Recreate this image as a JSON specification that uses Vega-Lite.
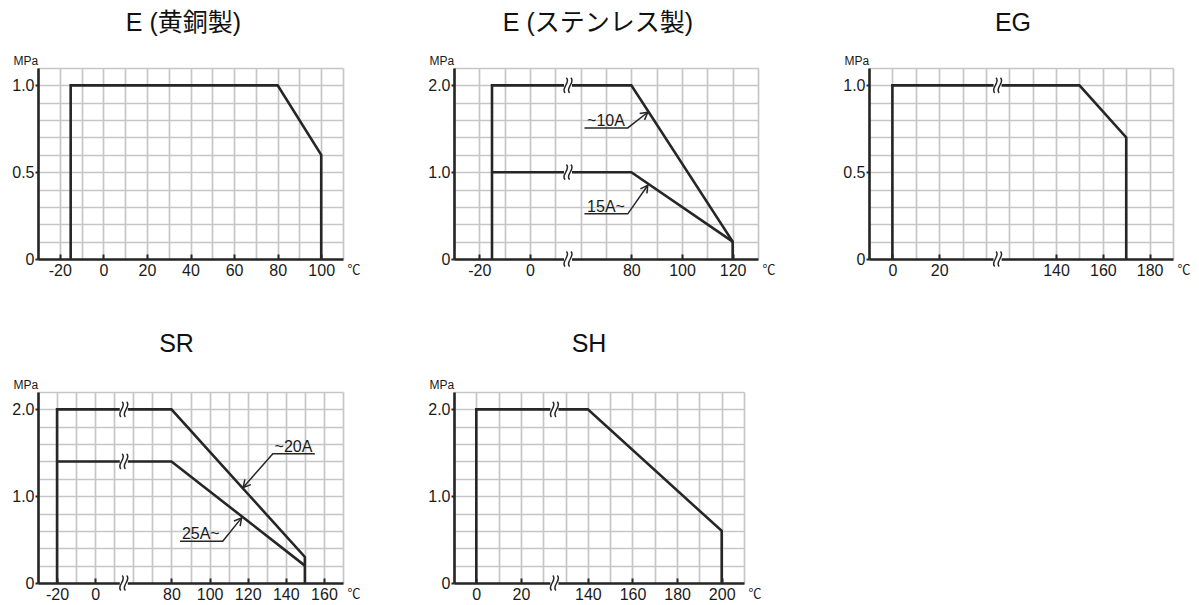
{
  "$schema": "https://vega.github.io/schema/vega-lite/v6.json",
  "background": "white",
  "padding": {"left": 11, "top": 11, "right": 0, "bottom": 0},
  "config": {
    "font": "Liberation Sans",
    "view": {"stroke": null},
    "title": {"font": "Liberation Sans, Noto Sans CJK JP", "fontSize": 25, "fontWeight": "normal", "color": "#111111", "anchor": "middle", "frame": "group"},
    "axis": {"grid": true, "gridColor": "#c6c6c6", "gridWidth": 1.7, "domainColor": "#262626", "domainWidth": 2.6, "tickColor": "#262626", "tickWidth": 2, "labelFont": "Liberation Sans", "labelFontSize": 16, "labelColor": "#1a1a1a", "labelOverlap": false, "labelFlush": false, "labelBound": false, "titleFont": "Liberation Sans, Noto Sans CJK JP", "titleFontWeight": "normal", "titleColor": "#1a1a1a", "titleFontSize": 12, "titleAngle": 0, "titleAlign": "left", "titleBaseline": "alphabetic", "titlePadding": 0},
    "axisX": {"tickSize": -5, "labelPadding": 8, "titleY": 14, "titleFontSize": 13},
    "axisY": {"tickSize": 3, "labelPadding": 1, "titleX": -25, "titleY": -4}
  },
  "datasets": {
    "p1_lines": [
      {"s": "a", "i": 0, "t": -15, "p": 0}, {"s": "a", "i": 1, "t": -15, "p": 1}, {"s": "a", "i": 2, "t": 80, "p": 1}, {"s": "a", "i": 3, "t": 100, "p": 0.6}, {"s": "a", "i": 4, "t": 100, "p": 0}
    ],
    "p2_lines": [
      {"s": "a", "i": 0, "t": -15, "p": 0}, {"s": "a", "i": 1, "t": -15, "p": 2}, {"s": "a", "i": 2, "t": 80, "p": 2}, {"s": "a", "i": 3, "t": 120, "p": 0.2}, {"s": "a", "i": 4, "t": 120, "p": 0},
      {"s": "b", "i": 0, "t": -15, "p": 1}, {"s": "b", "i": 1, "t": 80, "p": 1}, {"s": "b", "i": 2, "t": 120, "p": 0.2}
    ],
    "p2_breaks": [{"t": 15, "p": 2}, {"t": 15, "p": 1}, {"t": 15, "p": 0}],
    "p2_leaders": [
      {"s": "l1", "i": 0, "t": 61.5, "p": 1.51}, {"s": "l1", "i": 1, "t": 78.6, "p": 1.51}, {"s": "l1", "i": 2, "t": 86.5, "p": 1.69},
      {"s": "l2", "i": 0, "t": 61.5, "p": 0.52}, {"s": "l2", "i": 1, "t": 78.6, "p": 0.52}, {"s": "l2", "i": 2, "t": 86.5, "p": 0.85}
    ],
    "p2_heads": [{"k": 1, "t": 86.5, "p": 1.69}, {"k": 2, "t": 86.5, "p": 0.85}],
    "p2_labels": [{"label": "~10A", "t": 70, "p": 1.51}, {"label": "15A~", "t": 70, "p": 0.52}],
    "p3_lines": [
      {"s": "a", "i": 0, "t": 0, "p": 0}, {"s": "a", "i": 1, "t": 0, "p": 1}, {"s": "a", "i": 2, "t": 150, "p": 1}, {"s": "a", "i": 3, "t": 170, "p": 0.7}, {"s": "a", "i": 4, "t": 170, "p": 0}
    ],
    "p3_breaks": [{"t": 45, "p": 1}, {"t": 45, "p": 0}],
    "p4_lines": [
      {"s": "a", "i": 0, "t": -20, "p": 0}, {"s": "a", "i": 1, "t": -20, "p": 2}, {"s": "a", "i": 2, "t": 80, "p": 2}, {"s": "a", "i": 3, "t": 150, "p": 0.3}, {"s": "a", "i": 4, "t": 150, "p": 0},
      {"s": "b", "i": 0, "t": -20, "p": 1.4}, {"s": "b", "i": 1, "t": 80, "p": 1.4}, {"s": "b", "i": 2, "t": 150, "p": 0.2}
    ],
    "p4_breaks": [{"t": 15, "p": 2}, {"t": 15, "p": 1.4}, {"t": 15, "p": 0}],
    "p4_leaders": [
      {"s": "l1", "i": 0, "t": 155.2, "p": 1.49}, {"s": "l1", "i": 1, "t": 133.2, "p": 1.49}, {"s": "l1", "i": 2, "t": 117.6, "p": 1.1},
      {"s": "l2", "i": 0, "t": 84.5, "p": 0.48}, {"s": "l2", "i": 1, "t": 106.9, "p": 0.48}, {"s": "l2", "i": 2, "t": 116.8, "p": 0.75}
    ],
    "p4_heads": [{"k": 1, "t": 117.6, "p": 1.1}, {"k": 2, "t": 116.8, "p": 0.75}],
    "p4_labels": [{"label": "~20A", "t": 144, "p": 1.49}, {"label": "25A~", "t": 95.4, "p": 0.48}],
    "p5_lines": [
      {"s": "a", "i": 0, "t": 0, "p": 0}, {"s": "a", "i": 1, "t": 0, "p": 2}, {"s": "a", "i": 2, "t": 140, "p": 2}, {"s": "a", "i": 3, "t": 200, "p": 0.6}, {"s": "a", "i": 4, "t": 200, "p": 0}
    ],
    "p5_breaks": [{"t": 35, "p": 2}, {"t": 35, "p": 0}]
  },
  "columns": 3,
  "bounds": "flush",
  "spacing": {"row": 133, "column": 111},
  "concat": [
    {
      "title": {"text": "E (黄銅製)", "dx": -7, "offset": 18},
      "width": 305, "height": 191,
      "encoding": {
        "x": {"field": "t", "type": "quantitative", "scale": {"domain": [-30, 110], "nice": false, "zero": false},
          "axis": {"values": [-30, -20, -10, 0, 10, 20, 30, 40, 50, 60, 70, 80, 90, 100, 110], "labelExpr": "(datum.value == -20 || datum.value == 0 || datum.value == 20 || datum.value == 40 || datum.value == 60 || datum.value == 80 || datum.value == 100) ? '' + datum.value : ''", "tickOpacity": {"condition": {"test": "datum.value == -20 || datum.value == 0 || datum.value == 20 || datum.value == 40 || datum.value == 60 || datum.value == 80 || datum.value == 100", "value": 1}, "value": 0}, "title": "℃", "titleX": 309}},
        "y": {"field": "p", "type": "quantitative", "scale": {"domain": [0, 1.1], "nice": false, "zero": false},
          "axis": {"values": [0, 0.1, 0.2, 0.3, 0.4, 0.5, 0.6, 0.7, 0.8, 0.9, 1, 1.1], "labelExpr": "datum.value == 0 ? '0' : (datum.value == 0.5 || datum.value == 1) ? format(datum.value, '.1f') : ''", "tickOpacity": {"condition": {"test": "datum.value == 0 || datum.value == 0.5 || datum.value == 1", "value": 1}, "value": 0}, "title": "MPa"}}
      },
      "layer": [
        {"data": {"name": "p1_lines"}, "mark": {"type": "line", "color": "#262626", "strokeWidth": 2.6}, "encoding": {"detail": {"field": "s"}, "order": {"field": "i"}}}
      ]
    },
    {
      "title": {"text": "E (ステンレス製)", "dx": -8, "offset": 18},
      "width": 304, "height": 191,
      "encoding": {
        "x": {"field": "t", "type": "quantitative", "scale": {"domain": [-30, 15, 55, 130], "range": [0, 114, 114, 304], "nice": false, "zero": false},
          "axis": {"values": [-30, -20, -10, 0, 10, 60, 70, 80, 90, 100, 110, 120, 130], "labelExpr": "(datum.value == -20 || datum.value == 0 || datum.value == 80 || datum.value == 100 || datum.value == 120) ? '' + datum.value : ''", "tickOpacity": {"condition": {"test": "datum.value == -20 || datum.value == 0 || datum.value == 80 || datum.value == 100 || datum.value == 120", "value": 1}, "value": 0}, "title": "℃", "titleX": 308}},
        "y": {"field": "p", "type": "quantitative", "scale": {"domain": [0, 2.2], "nice": false, "zero": false},
          "axis": {"values": [0, 0.2, 0.4, 0.6, 0.8, 1, 1.2, 1.4, 1.6, 1.8, 2, 2.2], "labelExpr": "datum.value == 0 ? '0' : (datum.value == 1 || datum.value == 2) ? format(datum.value, '.1f') : ''", "tickOpacity": {"condition": {"test": "datum.value == 0 || datum.value == 1 || datum.value == 2", "value": 1}, "value": 0}, "title": "MPa"}}
      },
      "layer": [
        {"data": {"name": "p2_lines"}, "mark": {"type": "line", "color": "#262626", "strokeWidth": 2.6}, "encoding": {"detail": {"field": "s"}, "order": {"field": "i"}}},
        {"data": {"name": "p2_leaders"}, "mark": {"type": "line", "color": "#262626", "strokeWidth": 1.5}, "encoding": {"detail": {"field": "s"}, "order": {"field": "i"}}},
        {"data": {"name": "p2_heads"}, "transform": [{"filter": "datum.k == 1"}], "mark": {"type": "point", "shape": "M-1,-0.55L0,0L-1,0.55", "filled": false, "size": 210, "angle": -38, "color": "#262626", "strokeWidth": 1.5, "opacity": 1}},
        {"data": {"name": "p2_heads"}, "transform": [{"filter": "datum.k == 2"}], "mark": {"type": "point", "shape": "M-1,-0.55L0,0L-1,0.55", "filled": false, "size": 210, "angle": -55, "color": "#262626", "strokeWidth": 1.5, "opacity": 1}},
        {"data": {"name": "p2_breaks"}, "mark": {"type": "point", "shape": "square", "filled": true, "color": "white", "size": 64, "opacity": 1, "strokeWidth": 0}},
        {"data": {"name": "p2_breaks"}, "mark": {"type": "point", "shape": "M-0.22,-1C0.45,-0.45 -1.05,0.45 -0.38,1M0.38,-1C1.05,-0.45 -0.45,0.45 0.22,1", "filled": false, "size": 225, "color": "#262626", "strokeWidth": 1.5, "opacity": 1}},
        {"data": {"name": "p2_labels"}, "mark": {"type": "text", "font": "Liberation Sans", "fontSize": 16, "baseline": "alphabetic", "align": "center", "dy": -2, "color": "#1a1a1a"}, "encoding": {"text": {"field": "label"}}}
      ]
    },
    {
      "title": {"text": "EG", "dx": -8, "offset": 18},
      "width": 304, "height": 191,
      "encoding": {
        "x": {"field": "t", "type": "quantitative", "scale": {"domain": [-10, 45, 115, 190], "range": [0, 128.6, 128.6, 304], "nice": false, "zero": false},
          "axis": {"values": [-10, 0, 10, 20, 30, 40, 120, 130, 140, 150, 160, 170, 180, 190], "labelExpr": "(datum.value == 0 || datum.value == 20 || datum.value == 140 || datum.value == 160 || datum.value == 180) ? '' + datum.value : ''", "tickOpacity": {"condition": {"test": "datum.value == 0 || datum.value == 20 || datum.value == 140 || datum.value == 160 || datum.value == 180", "value": 1}, "value": 0}, "title": "℃", "titleX": 308}},
        "y": {"field": "p", "type": "quantitative", "scale": {"domain": [0, 1.1], "nice": false, "zero": false},
          "axis": {"values": [0, 0.1, 0.2, 0.3, 0.4, 0.5, 0.6, 0.7, 0.8, 0.9, 1, 1.1], "labelExpr": "datum.value == 0 ? '0' : (datum.value == 0.5 || datum.value == 1) ? format(datum.value, '.1f') : ''", "tickOpacity": {"condition": {"test": "datum.value == 0 || datum.value == 0.5 || datum.value == 1", "value": 1}, "value": 0}, "title": "MPa"}}
      },
      "layer": [
        {"data": {"name": "p3_lines"}, "mark": {"type": "line", "color": "#262626", "strokeWidth": 2.6}, "encoding": {"detail": {"field": "s"}, "order": {"field": "i"}}},
        {"data": {"name": "p3_breaks"}, "mark": {"type": "point", "shape": "square", "filled": true, "color": "white", "size": 64, "opacity": 1, "strokeWidth": 0}},
        {"data": {"name": "p3_breaks"}, "mark": {"type": "point", "shape": "M-0.22,-1C0.45,-0.45 -1.05,0.45 -0.38,1M0.38,-1C1.05,-0.45 -0.45,0.45 0.22,1", "filled": false, "size": 225, "color": "#262626", "strokeWidth": 1.5, "opacity": 1}}
      ]
    },
    {
      "title": {"text": "SR", "dx": -14, "offset": 21},
      "width": 305, "height": 191,
      "encoding": {
        "x": {"field": "t", "type": "quantitative", "scale": {"domain": [-30, 15, 55, 170], "range": [0, 85.8, 85.8, 305], "nice": false, "zero": false},
          "axis": {"values": [-30, -20, -10, 0, 10, 60, 70, 80, 90, 100, 110, 120, 130, 140, 150, 160, 170], "labelExpr": "(datum.value == -20 || datum.value == 0 || datum.value == 80 || datum.value == 100 || datum.value == 120 || datum.value == 140 || datum.value == 160) ? '' + datum.value : ''", "tickOpacity": {"condition": {"test": "datum.value == -20 || datum.value == 0 || datum.value == 80 || datum.value == 100 || datum.value == 120 || datum.value == 140 || datum.value == 160", "value": 1}, "value": 0}, "title": "℃", "titleX": 309}},
        "y": {"field": "p", "type": "quantitative", "scale": {"domain": [0, 2.2], "nice": false, "zero": false},
          "axis": {"values": [0, 0.2, 0.4, 0.6, 0.8, 1, 1.2, 1.4, 1.6, 1.8, 2, 2.2], "labelExpr": "datum.value == 0 ? '0' : (datum.value == 1 || datum.value == 2) ? format(datum.value, '.1f') : ''", "tickOpacity": {"condition": {"test": "datum.value == 0 || datum.value == 1 || datum.value == 2", "value": 1}, "value": 0}, "title": "MPa"}}
      },
      "layer": [
        {"data": {"name": "p4_lines"}, "mark": {"type": "line", "color": "#262626", "strokeWidth": 2.6}, "encoding": {"detail": {"field": "s"}, "order": {"field": "i"}}},
        {"data": {"name": "p4_leaders"}, "mark": {"type": "line", "color": "#262626", "strokeWidth": 1.5}, "encoding": {"detail": {"field": "s"}, "order": {"field": "i"}}},
        {"data": {"name": "p4_heads"}, "transform": [{"filter": "datum.k == 1"}], "mark": {"type": "point", "shape": "M-1,-0.55L0,0L-1,0.55", "filled": false, "size": 210, "angle": 131, "color": "#262626", "strokeWidth": 1.5, "opacity": 1}},
        {"data": {"name": "p4_heads"}, "transform": [{"filter": "datum.k == 2"}], "mark": {"type": "point", "shape": "M-1,-0.55L0,0L-1,0.55", "filled": false, "size": 210, "angle": -51, "color": "#262626", "strokeWidth": 1.5, "opacity": 1}},
        {"data": {"name": "p4_breaks"}, "mark": {"type": "point", "shape": "square", "filled": true, "color": "white", "size": 64, "opacity": 1, "strokeWidth": 0}},
        {"data": {"name": "p4_breaks"}, "mark": {"type": "point", "shape": "M-0.22,-1C0.45,-0.45 -1.05,0.45 -0.38,1M0.38,-1C1.05,-0.45 -0.45,0.45 0.22,1", "filled": false, "size": 225, "color": "#262626", "strokeWidth": 1.5, "opacity": 1}},
        {"data": {"name": "p4_labels"}, "mark": {"type": "text", "font": "Liberation Sans", "fontSize": 16, "baseline": "alphabetic", "align": "center", "dy": -2, "color": "#1a1a1a"}, "encoding": {"text": {"field": "label"}}}
      ]
    },
    {
      "title": {"text": "SH", "dx": -10, "offset": 21},
      "width": 290, "height": 191,
      "encoding": {
        "x": {"field": "t", "type": "quantitative", "scale": {"domain": [-10, 35, 125, 210], "range": [0, 100.4, 100.4, 290], "nice": false, "zero": false},
          "axis": {"values": [-10, 0, 10, 20, 30, 130, 140, 150, 160, 170, 180, 190, 200, 210], "labelExpr": "(datum.value == 0 || datum.value == 20 || datum.value == 140 || datum.value == 160 || datum.value == 180 || datum.value == 200) ? '' + datum.value : ''", "tickOpacity": {"condition": {"test": "datum.value == 0 || datum.value == 20 || datum.value == 140 || datum.value == 160 || datum.value == 180 || datum.value == 200", "value": 1}, "value": 0}, "title": "℃", "titleX": 294}},
        "y": {"field": "p", "type": "quantitative", "scale": {"domain": [0, 2.2], "nice": false, "zero": false},
          "axis": {"values": [0, 0.2, 0.4, 0.6, 0.8, 1, 1.2, 1.4, 1.6, 1.8, 2, 2.2], "labelExpr": "datum.value == 0 ? '0' : (datum.value == 1 || datum.value == 2) ? format(datum.value, '.1f') : ''", "tickOpacity": {"condition": {"test": "datum.value == 0 || datum.value == 1 || datum.value == 2", "value": 1}, "value": 0}, "title": "MPa"}}
      },
      "layer": [
        {"data": {"name": "p5_lines"}, "mark": {"type": "line", "color": "#262626", "strokeWidth": 2.6}, "encoding": {"detail": {"field": "s"}, "order": {"field": "i"}}},
        {"data": {"name": "p5_breaks"}, "mark": {"type": "point", "shape": "square", "filled": true, "color": "white", "size": 64, "opacity": 1, "strokeWidth": 0}},
        {"data": {"name": "p5_breaks"}, "mark": {"type": "point", "shape": "M-0.22,-1C0.45,-0.45 -1.05,0.45 -0.38,1M0.38,-1C1.05,-0.45 -0.45,0.45 0.22,1", "filled": false, "size": 225, "color": "#262626", "strokeWidth": 1.5, "opacity": 1}}
      ]
    }
  ]
}
